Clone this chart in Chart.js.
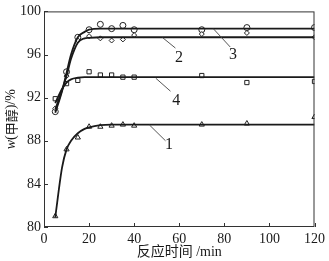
<!DOCTYPE html>
<html>
<head>
<meta charset="utf-8">
<script src="https://cdn.jsdelivr.net/npm/chart.js@4.4.0/dist/chart.umd.min.js"></script>
<style>
  html, body { margin: 0; padding: 0; background: #fff; }
  #wrap { width: 329px; height: 261px; }
</style>
</head>
<body>
<div id="wrap"><canvas id="chart" width="329" height="261"></canvas></div>
<script>
// measured points
const times = [5, 10, 15, 20, 25, 30, 35, 40, 70, 90, 120];
const series1 = [81.0, 87.2, 88.3, 89.3, 89.3, 89.4, 89.5, 89.4, 89.5, 89.6, 90.2];
const series2 = [91.0, 94.0, 97.3, 97.7, 97.5, 97.3, 97.4, 97.8, 97.9, 98.0, 97.6];
const series3 = [90.7, 94.4, 97.6, 98.3, 98.8, 98.4, 98.7, 98.3, 98.3, 98.5, 98.5];
const series4 = [91.9, 93.3, 93.6, 94.4, 94.1, 94.1, 93.9, 93.9, 94.05, 93.4, 93.5];

// fitted curves
const curveTimes = [5, 8, 10, 12, 15, 18, 20, 25, 30, 40, 70, 120];
const curve1 = [80.9, 85.5, 87.2, 88.0, 88.7, 89.1, 89.25, 89.45, 89.5, 89.5, 89.5, 89.5];
const curve2 = [90.9, 92.7, 94.0, 95.6, 97.1, 97.5, 97.55, 97.6, 97.6, 97.6, 97.6, 97.6];
const curve3 = [90.6, 92.6, 94.3, 96.0, 97.6, 98.1, 98.3, 98.4, 98.4, 98.4, 98.4, 98.4];
const curve4 = [91.5, 92.8, 93.4, 93.7, 93.85, 93.9, 93.9, 93.9, 93.9, 93.9, 93.9, 93.9];

const xTicks = [0, 20, 40, 60, 80, 100, 120];
const yTicks = [80, 84, 88, 92, 96, 100];

// curve number labels: text spot and leader line, in data units
const curveLabels = ['1', '2', '3', '4'];
const labelSpots = [[55.5, 87.6], [59.9, 95.7], [83.8, 95.95], [58.7, 91.7]];
const leaderFrom = [[46.8, 89.46], [52.6, 97.57], [75.1, 98.4], [49.6, 93.8]];
const leaderTo = [[53.9, 88.0], [58.3, 96.6], [82.6, 96.7], [56.1, 92.6]];

const ink = '#1a1a1a';
const serif = '"Liberation Serif", "DejaVu Serif", serif';

const pts = (xs, ys) => xs.map((x, i) => ({ x: x, y: ys[i] }));

const curveSet = (ys) => ({
    type: 'line',
    data: pts(curveTimes, ys),
    borderColor: ink,
    borderWidth: 1.8,
    pointRadius: 0,
    fill: false,
    cubicInterpolationMode: 'monotone'
});

const markerSet = (ys, style, r) => ({
    type: 'scatter',
    data: pts(times, ys),
    showLine: false,
    pointStyle: style,
    pointRadius: r,
    borderColor: '#222',
    backgroundColor: '#fff',
    borderWidth: 1
});

const frame = {
    id: 'frame',
    afterDraw(chart) {
        const ctx = chart.ctx;
        const a = chart.chartArea;
        const xs = chart.scales.x, ys = chart.scales.y;
        ctx.save();
        ctx.strokeStyle = '#333';
        ctx.lineWidth = 1;
        ctx.strokeRect(a.left + 0.5, a.top + 0.5, a.right - a.left - 1, a.bottom - a.top - 1);
        // inward ticks
        ctx.beginPath();
        xTicks.forEach(v => {
            const p = Math.round(xs.getPixelForValue(v)) + 0.5;
            ctx.moveTo(p, a.bottom);
            ctx.lineTo(p, a.bottom - 4);
        });
        yTicks.forEach(v => {
            const p = Math.round(ys.getPixelForValue(v)) + 0.5;
            ctx.moveTo(a.left, p);
            ctx.lineTo(a.left + 4, p);
        });
        ctx.stroke();

        // leader lines and numbers
        ctx.strokeStyle = '#444';
        ctx.lineWidth = 0.9;
        ctx.fillStyle = ink;
        ctx.font = '16px ' + serif;
        ctx.textAlign = 'center';
        ctx.textBaseline = 'middle';
        curveLabels.forEach((t, i) => {
            ctx.beginPath();
            ctx.moveTo(xs.getPixelForValue(leaderFrom[i][0]), ys.getPixelForValue(leaderFrom[i][1]));
            ctx.lineTo(xs.getPixelForValue(leaderTo[i][0]), ys.getPixelForValue(leaderTo[i][1]));
            ctx.stroke();
            ctx.fillText(t, xs.getPixelForValue(labelSpots[i][0]), ys.getPixelForValue(labelSpots[i][1]));
        });

        // y axis title with italic w
        const cy = (a.top + a.bottom) / 2;
        ctx.translate(11, cy);
        ctx.rotate(-Math.PI / 2);
        const parts = [
            ['italic 14px ' + serif, 'w'],
            ['14px ' + serif, '('],
            ['13px "Noto Sans CJK SC"', '甲醇'],
            ['14px ' + serif, ')/%']
        ];
        let total = 0;
        parts.forEach(p => { ctx.font = p[0]; total += ctx.measureText(p[1]).width; });
        let x = -total / 2;
        ctx.textAlign = 'left';
        parts.forEach(p => {
            ctx.font = p[0];
            ctx.fillText(p[1], x, 0);
            x += ctx.measureText(p[1]).width;
        });
        ctx.restore();
    }
};

new Chart(document.getElementById('chart').getContext('2d'), {
    data: {
        datasets: [
            curveSet(curve1), curveSet(curve2), curveSet(curve3), curveSet(curve4),
            markerSet(series1, 'triangle', 3),
            markerSet(series2, 'rectRot', 2.5),
            markerSet(series3, 'circle', 3),
            markerSet(series4, 'rect', 3)
        ]
    },
    options: {
        responsive: false,
        animation: false,
        layout: { padding: { top: 5, right: 9, left: 0, bottom: 0 } },
        scales: {
            x: {
                type: 'linear',
                min: 0,
                max: 120,
                afterBuildTicks: (s) => { s.ticks = xTicks.map(v => ({ value: v })); },
                afterFit: (s) => { s.height = 34; },
                grid: { display: false, drawTicks: false },
                border: { display: false },
                ticks: { color: ink, padding: 4, maxRotation: 0, font: { family: serif, size: 14 } },
                title: {
                    display: true,
                    text: '反应时间 /min',
                    color: ink,
                    padding: { top: 0, bottom: 0 },
                    font: { family: '"Liberation Serif", "Noto Sans CJK SC", serif', size: 14 }
                }
            },
            y: {
                type: 'linear',
                min: 80,
                max: 100,
                afterBuildTicks: (s) => { s.ticks = yTicks.map(v => ({ value: v })); },
                afterFit: (s) => { s.width = 44; },
                grid: { display: false, drawTicks: false },
                border: { display: false },
                ticks: { color: ink, padding: 3, font: { family: serif, size: 14 } }
            }
        },
        plugins: {
            legend: { display: false },
            tooltip: { enabled: false }
        }
    },
    plugins: [frame]
});
</script>
</body>
</html>
